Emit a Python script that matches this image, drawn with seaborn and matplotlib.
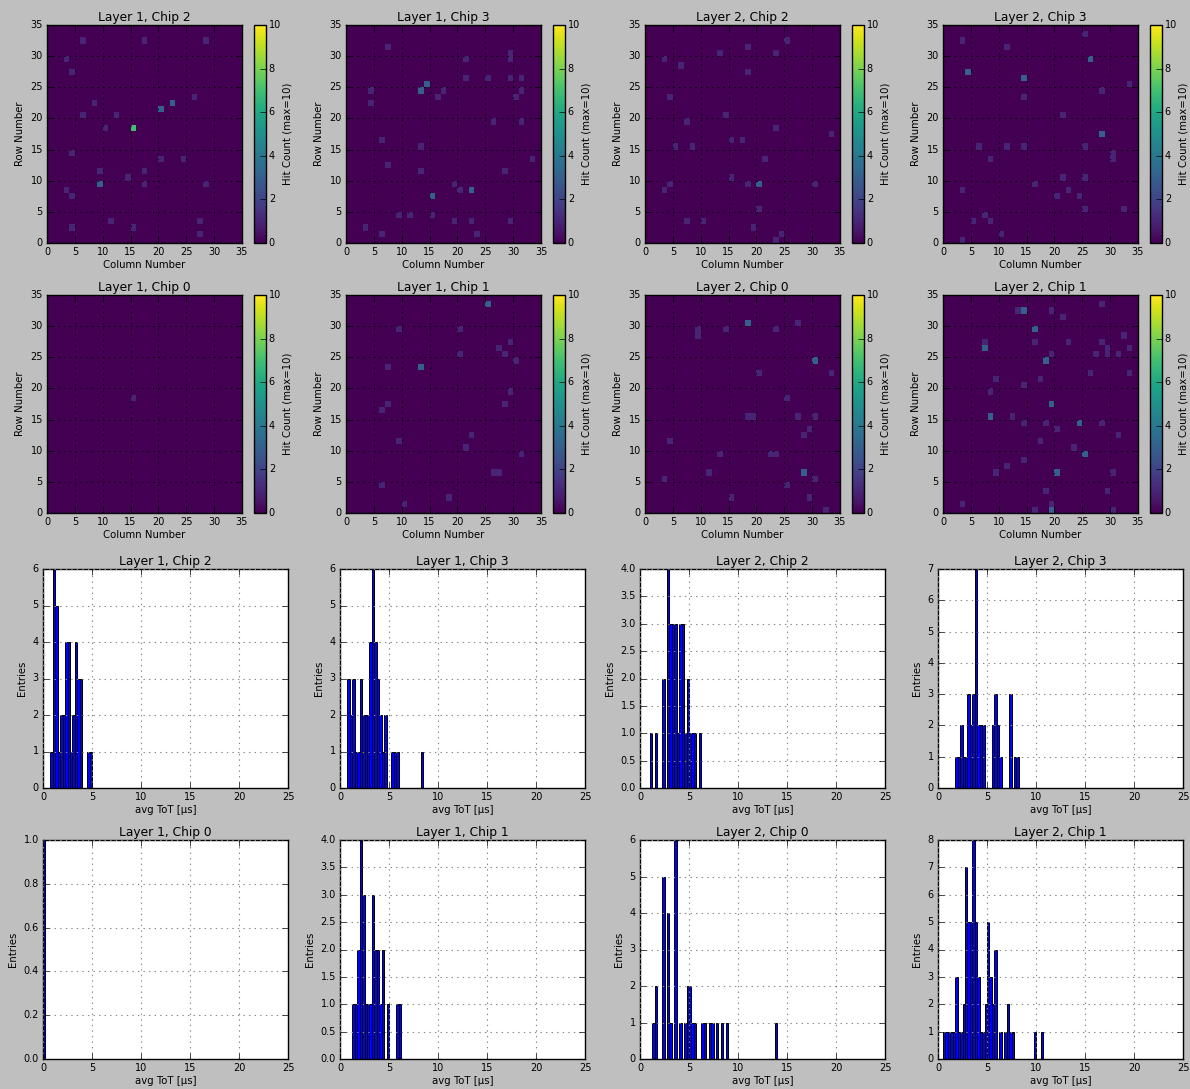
import numpy as np
import pandas as pd
import matplotlib
matplotlib.use("Agg")
import matplotlib.pyplot as plt
import seaborn as sns

plt.style.use("classic")
plt.rcParams["font.family"] = ["DejaVu Sans"]

# ---------------- hit maps: (column, row, hits) ----------------
L1C2_cols = [6, 17, 28, 3, 4, 26, 8, 22, 20, 6, 12, 10, 15, 4, 20, 24, 9, 17, 14, 9, 17, 28, 3, 4, 11, 27, 4, 15, 27]
L1C2_rows = [32, 32, 32, 29, 27, 23, 22, 22, 21, 20, 20, 18, 18, 14, 13, 13, 11, 11, 10, 9, 9, 9, 8, 7, 3, 3, 2, 2, 1]
L1C2_hits = [1, 1, 1, 1, 1, 1, 1, 3, 3, 1, 1, 1, 7, 1, 1, 1, 1, 1, 1, 3, 1, 1, 1, 1, 1, 1, 1, 1, 1]

L1C3_cols = [7, 29, 29, 21, 21, 25, 29, 31, 14, 13, 4, 17, 31, 16, 30, 4, 26, 31, 6, 13, 33, 7, 13, 28, 19, 20, 22, 15, 9, 11, 15, 19, 22, 29, 3, 6, 23]
L1C3_rows = [31, 30, 29, 29, 26, 26, 26, 26, 25, 24, 24, 24, 24, 23, 23, 22, 19, 19, 16, 15, 13, 12, 11, 11, 9, 8, 8, 7, 4, 4, 4, 3, 3, 3, 2, 1, 1]
L1C3_hits = [1, 1, 1, 1, 1, 1, 1, 1, 3, 3, 1, 1, 1, 1, 1, 1, 1, 1, 1, 1, 1, 1, 1, 1, 1, 1, 3, 3, 1, 1, 1, 1, 1, 1, 1, 1, 1]

L2C2_cols = [25, 18, 13, 23, 3, 6, 18, 4, 14, 7, 23, 33, 15, 17, 5, 8, 21, 15, 4, 18, 20, 30, 3, 20, 7, 10, 19, 24, 23]
L2C2_rows = [32, 31, 30, 30, 29, 28, 27, 23, 20, 19, 18, 17, 16, 16, 15, 15, 13, 10, 9, 9, 9, 9, 8, 5, 3, 3, 2, 1, 0]
L2C2_hits = [1, 1, 1, 1, 1, 1, 1, 1, 1, 1, 1, 1, 1, 1, 1, 1, 1, 1, 1, 1, 3, 1, 1, 1, 1, 1, 1, 1, 1]

L2C3_cols = [25, 3, 11, 26, 4, 14, 33, 28, 14, 21, 28, 6, 11, 14, 25, 30, 30, 8, 21, 25, 16, 3, 22, 20, 24, 25, 32, 7, 5, 8, 10, 3]
L2C3_rows = [33, 32, 31, 29, 27, 26, 25, 24, 23, 20, 17, 15, 15, 15, 15, 14, 13, 13, 10, 10, 9, 8, 8, 7, 7, 5, 5, 4, 3, 3, 1, 0]
L2C3_hits = [1, 1, 1, 3, 3, 3, 1, 1, 1, 1, 3, 1, 1, 1, 1, 1, 1, 1, 1, 1, 1, 1, 1, 1, 1, 1, 1, 1, 1, 1, 1, 1]

L1C0_cols = [15]
L1C0_rows = [18]
L1C0_hits = [1]

L1C1_cols = [25, 9, 20, 29, 27, 20, 28, 30, 7, 13, 29, 7, 28, 6, 22, 9, 21, 31, 26, 27, 6, 18, 10]
L1C1_rows = [33, 29, 29, 27, 26, 25, 25, 24, 23, 23, 19, 17, 17, 16, 12, 11, 10, 9, 6, 6, 4, 2, 1]
L1C1_hits = [3, 1, 1, 1, 1, 1, 1, 1, 1, 3, 1, 1, 1, 1, 1, 1, 1, 1, 1, 1, 1, 1, 1]

L2C0_cols = [18, 27, 9, 9, 14, 23, 30, 20, 33, 25, 18, 19, 27, 30, 29, 28, 4, 13, 22, 23, 11, 28, 3, 30, 25, 15, 29, 32]
L2C0_rows = [30, 30, 29, 28, 29, 29, 24, 22, 22, 18, 15, 15, 15, 15, 13, 12, 11, 9, 9, 9, 6, 6, 5, 5, 4, 2, 2, 0]
L2C0_hits = [3, 1, 1, 1, 1, 1, 3, 1, 1, 1, 1, 1, 1, 1, 1, 1, 1, 1, 1, 1, 1, 3, 1, 1, 1, 1, 1, 1]

L2C1_cols = [28, 13, 14, 19, 21, 16, 32, 7, 16, 22, 28, 7, 29, 29, 33, 19, 27, 31, 18, 26, 33, 9, 17, 14, 8, 19, 8, 12, 14, 18, 24, 28, 20, 31, 17, 23, 25, 14, 11, 9, 20, 30, 18, 29, 3, 19, 16, 19, 30]
L2C1_rows = [33, 32, 32, 32, 31, 29, 28, 27, 27, 27, 27, 26, 26, 25, 26, 25, 25, 25, 24, 22, 22, 21, 21, 20, 19, 17, 15, 15, 14, 14, 14, 14, 13, 12, 11, 10, 9, 8, 7, 6, 6, 6, 3, 3, 1, 1, 0, 0, 0]
L2C1_hits = [1, 1, 3, 1, 1, 3, 1, 1, 1, 1, 1, 3, 1, 1, 1, 1, 1, 1, 3, 1, 1, 1, 1, 1, 1, 3, 3, 1, 1, 1, 3, 1, 1, 1, 1, 1, 3, 1, 1, 1, 3, 1, 1, 1, 1, 1, 1, 3, 1]

# ---------------- avg ToT histograms: bin lower edge [us] and entries ----------------
L1C2_tot = [0.75, 1.0, 1.25, 1.5, 1.75, 2.0, 2.25, 2.5, 2.75, 3.0, 3.25, 3.5, 3.75, 4.5, 4.75]
L1C2_entries = [1, 6, 5, 1, 2, 2, 4, 4, 1, 2, 4, 3, 3, 1, 1]

L1C3_tot = [0.75, 1.0, 1.25, 1.5, 1.75, 2.0, 2.25, 2.5, 2.75, 3.0, 3.25, 3.5, 3.75, 4.0, 4.25, 4.5, 5.25, 5.5, 5.75, 8.25]
L1C3_entries = [3, 2, 3, 1, 1, 3, 2, 2, 2, 4, 6, 4, 3, 2, 1, 2, 1, 1, 1, 1]

L2C2_tot = [1.0, 1.5, 2.25, 2.75, 3.0, 3.25, 3.5, 3.75, 4.0, 4.25, 4.5, 4.75, 5.0, 5.25, 5.5, 6.0]
L2C2_entries = [1, 1, 2, 4, 3, 3, 3, 1, 3, 3, 1, 2, 1, 1, 1, 1]

L2C3_tot = [1.75, 2.0, 2.25, 2.5, 2.75, 3.0, 3.25, 3.5, 3.75, 4.0, 4.25, 4.5, 5.5, 5.75, 6.0, 6.25, 7.25, 7.75, 8.0]
L2C3_entries = [1, 1, 2, 1, 1, 3, 2, 3, 7, 2, 2, 2, 2, 3, 2, 1, 3, 1, 1]

L1C0_tot = [0.0]
L1C0_entries = [1]

L1C1_tot = [1.25, 1.5, 1.75, 2.0, 2.25, 2.5, 2.75, 3.0, 3.25, 3.5, 3.75, 4.0, 4.25, 4.75, 5.75, 6.0]
L1C1_entries = [1, 1, 2, 4, 3, 1, 1, 1, 3, 2, 2, 1, 2, 1, 1, 1]

L2C0_tot = [1.25, 1.5, 2.25, 2.75, 3.0, 3.5, 4.0, 4.5, 4.75, 5.0, 5.25, 5.5, 6.25, 6.5, 7.0, 7.25, 7.75, 8.25, 8.75, 13.75]
L2C0_entries = [1, 2, 5, 4, 1, 6, 1, 1, 2, 2, 1, 1, 1, 1, 1, 1, 1, 1, 1, 1]

L2C1_tot = [0.5, 0.75, 1.0, 1.25, 1.5, 1.75, 2.0, 2.25, 2.5, 2.75, 3.0, 3.25, 3.5, 3.75, 4.0, 4.25, 4.5, 4.75, 5.0, 5.25, 5.5, 5.75, 6.25, 6.75, 7.0, 7.25, 7.5, 9.75, 10.5]
L2C1_entries = [1, 1, 1, 1, 1, 3, 1, 1, 2, 7, 5, 5, 8, 5, 3, 1, 1, 2, 5, 3, 2, 4, 1, 1, 2, 1, 1, 1, 1]

panels = [
    ("Layer 1, Chip 2", L1C2_cols, L1C2_rows, L1C2_hits, L1C2_tot, L1C2_entries),
    ("Layer 1, Chip 3", L1C3_cols, L1C3_rows, L1C3_hits, L1C3_tot, L1C3_entries),
    ("Layer 2, Chip 2", L2C2_cols, L2C2_rows, L2C2_hits, L2C2_tot, L2C2_entries),
    ("Layer 2, Chip 3", L2C3_cols, L2C3_rows, L2C3_hits, L2C3_tot, L2C3_entries),
    ("Layer 1, Chip 0", L1C0_cols, L1C0_rows, L1C0_hits, L1C0_tot, L1C0_entries),
    ("Layer 1, Chip 1", L1C1_cols, L1C1_rows, L1C1_hits, L1C1_tot, L1C1_entries),
    ("Layer 2, Chip 0", L2C0_cols, L2C0_rows, L2C0_hits, L2C0_tot, L2C0_entries),
    ("Layer 2, Chip 1", L2C1_cols, L2C1_rows, L2C1_hits, L2C1_tot, L2C1_entries),
]

N = 35
BIN_W = 0.25
W, H = 1190, 1089
fig = plt.figure(figsize=(W / 100, H / 100), dpi=100, facecolor="#bfbfbf")


def px_axes(left, top, width, height):
    return fig.add_axes([left / W, 1 - (top + height) / H, width / W, height / H])


TICK = 7
LAB = 7.3
TIT = 8.8

map_lefts = [47, 346, 645, 943]
map_tops = [25, 295]
hist_lefts = [43, 340, 640, 938]
hist_tops = [569, 840]

for i, (title, cols, rows, hits, tot, entries) in enumerate(panels):
    r, c = divmod(i, 4)
    # ---- hit map ----
    ax = px_axes(map_lefts[c], map_tops[r], 195, 218)
    cax = px_axes(map_lefts[c] + 207, map_tops[r], 12, 218)
    M = np.zeros((N, N))
    M[np.array(rows), np.array(cols)] = np.array(hits)
    sns.heatmap(M, ax=ax, cbar_ax=cax, cmap="viridis", vmin=0, vmax=10,
                cbar_kws={"label": "Hit Count (max=10)"})
    ax.invert_yaxis()
    for s in ax.spines.values():
        s.set_visible(True)
        s.set_linewidth(1)
        s.set_color("black")
    ticks = np.arange(0, N + 1, 5)
    ax.set_xticks(ticks)
    ax.set_xticklabels([str(t) for t in ticks], rotation=0, fontsize=TICK)
    ax.set_yticks(ticks)
    ax.set_yticklabels([str(t) for t in ticks], rotation=0, fontsize=TICK, va="center")
    ax.tick_params(direction="in", top=True, right=True, length=4, pad=3)
    ax.set_axisbelow(False)
    ax.grid(True, linestyle=":", color="black", linewidth=0.6)
    ax.set_xlabel("Column Number", fontsize=LAB, labelpad=2)
    ax.set_ylabel("Row Number", fontsize=LAB, labelpad=4)
    ax.set_title(title, fontsize=TIT, pad=3)
    cb = ax.collections[0].colorbar
    cb.outline.set_linewidth(1)
    cb.outline.set_edgecolor("black")
    cb.set_ticks([0, 2, 4, 6, 8, 10])
    cb.ax.tick_params(labelsize=TICK, direction="in", length=4, pad=2)
    cb.set_label("Hit Count (max=10)", fontsize=LAB, labelpad=1)

    # ---- avg ToT histogram ----
    hx = px_axes(hist_lefts[c], hist_tops[r], 245, 219)
    df = pd.DataFrame({"tot": np.array(tot, dtype=float) + BIN_W / 2,
                       "n": np.array(entries, dtype=float)})
    sns.histplot(data=df, x="tot", weights="n", binwidth=BIN_W, binrange=(0, 25),
                 ax=hx, color="#0000ff", edgecolor="black", linewidth=0.7, alpha=1)
    hx.set_facecolor("white")
    hx.set_xlim(0, 25)
    hx.set_ylim(0, max(entries))
    hx.set_xticks(np.arange(0, 26, 5))
    hx.tick_params(labelsize=TICK, direction="in", top=True, right=True, length=4, pad=3)
    hx.set_axisbelow(False)
    hx.grid(True, linestyle=":", color="#888888", linewidth=0.8)
    hx.set_xlabel("avg ToT [µs]", fontsize=LAB, labelpad=2)
    hx.set_ylabel("Entries", fontsize=LAB, labelpad=4)
    hx.set_title(title, fontsize=TIT, pad=3)

fig.savefig("out.png", dpi=100, facecolor=fig.get_facecolor())
